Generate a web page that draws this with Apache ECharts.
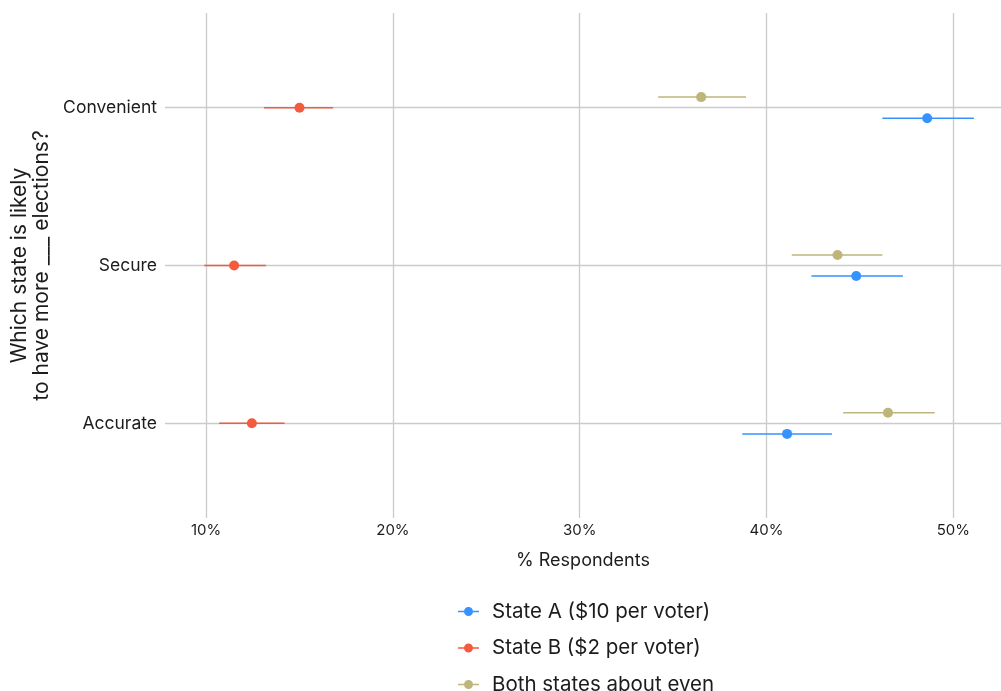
<!DOCTYPE html>
<html>
<head>
<meta charset="utf-8">
<script src="https://cdn.jsdelivr.net/npm/echarts@6/dist/echarts.min.js"></script>
<style>
	html, body { margin: 0; padding: 0; background: #fff; }
	#chart { width: 1001px; height: 691px; }
</style>
</head>
<body>
<div id="chart"></div>
<script>
// categories, top to bottom
const categories = ['Convenient', 'Secure', 'Accurate'];
const xTicks = [10, 20, 30, 40, 50];

// State A ($10 per voter)
const aMid = [48.6, 44.8, 41.1];
const aLo = [46.2, 42.4, 38.7];
const aHi = [51.1, 47.3, 43.5];

// State B ($2 per voter)
const bMid = [15.0, 11.5, 12.45];
const bLo = [13.1, 9.9, 10.7];
const bHi = [16.8, 13.2, 14.2];

// Both states about even
const evenMid = [36.5, 43.8, 46.5];
const evenLo = [34.2, 41.35, 44.1];
const evenHi = [38.9, 46.2, 49.0];

const font = 'Inter, "DejaVu Sans", sans-serif';
const textColor = '#1c1c1c';
const gridColor = '#cbcbcb';
const dodge = 0.067;

// legend icon: short line with a dot
const legendIcon = 'path://M0,3.8H21V5.2H0Z M15,4.5A4.5,4.5 0 1 1 6,4.5A4.5,4.5 0 1 1 15,4.5Z';

function makeData(lo, hi, mid, offset) {
	return mid.map((m, i) => [lo[i], hi[i], m, i + 1 + offset]);
}

function renderRange(params, api) {
	const color = api.visual('color');
	const y = api.value(3);
	const p0 = api.coord([api.value(0), y]);
	const p1 = api.coord([api.value(1), y]);
	const pm = api.coord([api.value(2), y]);
	return {
		type: 'group',
		children: [
			{type: 'line', shape: {x1: p0[0], y1: p0[1], x2: p1[0], y2: p1[1]}, style: {stroke: color, lineWidth: 1.5}},
			{type: 'circle', shape: {cx: pm[0], cy: pm[1], r: 5}, style: {fill: color}},
		]
	};
}

const chart = echarts.init(document.getElementById('chart'), null, {renderer: 'canvas'});

chart.setOption({
	animation: false,
	textStyle: {fontFamily: font, color: textColor},
	grid: {left: 165, right: 0, top: 13, bottom: 173},
	xAxis: {
		type: 'value',
		min: 7.8,
		max: 52.55,
		name: '% Respondents',
		nameLocation: 'middle',
		nameGap: 34,
		nameTextStyle: {fontSize: 18, color: textColor, fontFamily: font},
		axisLine: {show: false},
		axisTick: {show: false},
		splitLine: {show: false},
		axisLabel: {
			customValues: xTicks,
			formatter: '{value}%',
			fontSize: 15,
			color: textColor,
			margin: 4.5,
		},
	},
	yAxis: {
		type: 'value',
		inverse: true,
		min: 0.4,
		max: 3.6,
		name: 'Which state is likely\nto have more ___ elections?',
		nameLocation: 'middle',
		nameRotate: 90,
		nameGap: 112,
		nameTextStyle: {fontSize: 21, lineHeight: 22, color: textColor, fontFamily: font},
		axisLine: {show: false},
		axisTick: {show: false},
		splitLine: {show: false},
		axisLabel: {
			customValues: [1, 2, 3],
			formatter: v => categories[Math.round(v) - 1],
			fontSize: 17.5,
			color: textColor,
			margin: 8,
		},
	},
	legend: {
		orient: 'vertical',
		left: 458,
		top: 599.5,
		height: 110,
		padding: 0,
		itemWidth: 21,
		itemHeight: 9,
		itemGap: 12.5,
		textStyle: {fontSize: 20.5, lineHeight: 24, color: textColor, fontFamily: font, padding: [0, 0, 0, 8]},
		data: [
			{name: 'State A ($10 per voter)', icon: legendIcon},
			{name: 'State B ($2 per voter)', icon: legendIcon},
			{name: 'Both states about even', icon: legendIcon},
		],
	},
	series: [
		{
			name: 'grid',
			type: 'line',
			data: [],
			silent: true,
			z: 0,
			markLine: {
				silent: true,
				z: 0,
				symbol: 'none',
				label: {show: false},
				lineStyle: {color: gridColor, width: 1.3, type: 'solid'},
				data: [
					...xTicks.map(v => ({xAxis: v})),
					...categories.map((c, i) => ({yAxis: i + 1})),
				],
			},
		},
		{
			name: 'Both states about even',
			type: 'custom',
			z: 3,
			itemStyle: {color: '#bdb57a'},
			renderItem: renderRange,
			encode: {x: [0, 1, 2], y: 3},
			data: makeData(evenLo, evenHi, evenMid, -dodge),
		},
		{
			name: 'State B ($2 per voter)',
			type: 'custom',
			z: 3,
			itemStyle: {color: '#f45a3d'},
			renderItem: renderRange,
			encode: {x: [0, 1, 2], y: 3},
			data: makeData(bLo, bHi, bMid, 0),
		},
		{
			name: 'State A ($10 per voter)',
			type: 'custom',
			z: 3,
			itemStyle: {color: '#3593ff'},
			renderItem: renderRange,
			encode: {x: [0, 1, 2], y: 3},
			data: makeData(aLo, aHi, aMid, dodge),
		},
	],
});
</script>
</body>
</html>
